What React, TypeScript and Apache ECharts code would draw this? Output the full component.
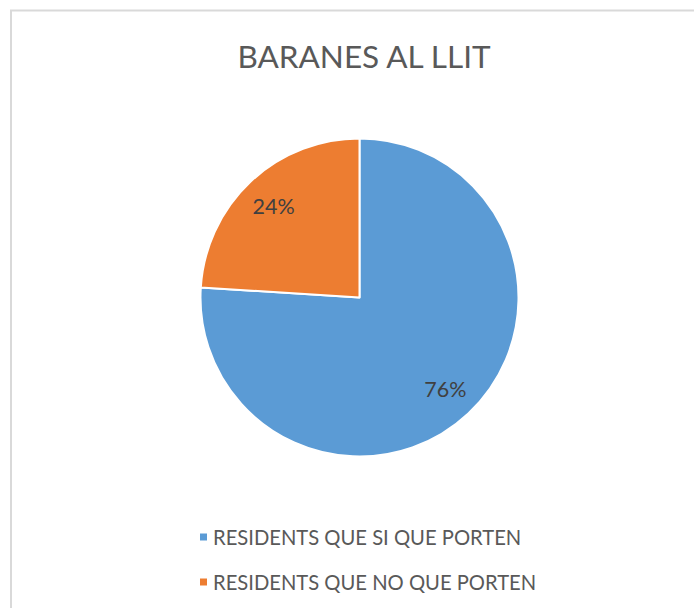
import React, { useEffect, useRef } from "react";
import * as echarts from "echarts";

const titleText = "BARANES AL LLIT";
const categories = ["RESIDENTS QUE SI QUE PORTEN", "RESIDENTS QUE NO QUE PORTEN"];
const values = [76, 24];
const colors = ["#5b9bd5", "#ed7d31"];

export default function App() {
  const ref = useRef<HTMLDivElement>(null);
  useEffect(() => {
    if (!ref.current) return;
    const chart = echarts.init(ref.current, undefined, { renderer: "svg" });
    const data = categories.map((name, i) => ({ name, value: values[i], itemStyle: { color: colors[i] } }));
    chart.setOption({
      animation: false,
      backgroundColor: "#ffffff",
      title: {
        text: titleText,
        left: 359,
        textAlign: "center",
        top: 35,
        textStyle: { fontFamily: "Lato", fontSize: 31.5, fontWeight: "normal", color: "#595959" },
      },
      graphic: [
        {
          type: "rect",
          shape: { x: 11, y: 10.5, width: 720, height: 640 },
          style: { fill: "none", stroke: "#d9d9d9", lineWidth: 2 },
          silent: true,
        },
      ],
      legend: {
        orient: "vertical",
        left: 193,
        top: 522,
        itemWidth: 9,
        itemHeight: 9,
        itemGap: 25,
        icon: "rect",
        data: categories,
        textStyle: { fontFamily: "Lato", fontSize: 20.2, color: "#595959", lineHeight: 20 },
      },
      series: [
        {
          type: "pie",
          center: [359.5, 297.5],
          radius: [0, 159],
          startAngle: 90,
          clockwise: true,
          data,
          itemStyle: { borderColor: "#ffffff", borderWidth: 2 },
          label: { show: false },
          labelLine: { show: false },
          silent: true,
        },
        {
          type: "pie",
          center: [359.5, 297.5],
          radius: [86, 159],
          startAngle: 90,
          clockwise: true,
          data: categories.map((name, i) => ({ name, value: values[i] })),
          itemStyle: { color: "rgba(0,0,0,0)" },
          label: {
            show: true,
            position: "inside",
            formatter: "{d}%",
            fontFamily: "Lato",
            fontSize: 21.5,
            color: "#404040",
          },
          labelLine: { show: false },
          silent: true,
          legendHoverLink: false,
        },
      ],
    });
    return () => chart.dispose();
  }, []);
  return <div ref={ref} style={{ position: "fixed", left: 0, top: 0, width: 694, height: 608 }} />;
}
